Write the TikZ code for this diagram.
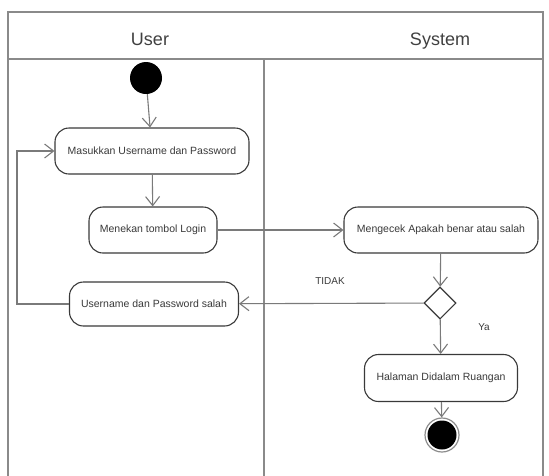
\documentclass[tikz,border=0pt]{standalone}
\usepackage{fontspec}
\setmainfont{Liberation Sans}
\usetikzlibrary{arrows.meta,shapes.geometric}
\definecolor{framec}{HTML}{8A8A8A}
\definecolor{linec}{HTML}{7A7A7A}
\definecolor{boxc}{HTML}{3A3A3A}
\definecolor{textc}{HTML}{3A3A3A}
\tikzset{
  act/.style={draw=boxc, line width=1.1pt, rounded corners=14pt, fill=white,
    minimum height=46pt, inner sep=0pt, font=\fontsize{10.5}{12}\selectfont, text=textc},
  flow/.style={draw=linec, line width=1.1pt, -{Straight Barb[length=9pt,width=14pt,line width=1.1pt]}},
  lane/.style={draw=framec, line width=1.8pt},
  hdr/.style={font=\fontsize{18}{20}\selectfont, text=black!75, anchor=base},
  lbl/.style={font=\fontsize{10}{12}\selectfont, text=textc}
}
\begin{document}
\begin{tikzpicture}[x=1pt,y=-1pt]
\useasboundingbox (0,0) rectangle (549,475);
% swimlane frame
\draw[lane] (8,480) -- (8,12) -- (543,12) -- (543,480);
\draw[lane] (8,59) -- (543,59);
\draw[lane] (264,59) -- (264,480);
\node[hdr] (huser) at (150,45) {User};
\node[hdr] (hsys) at (440,45) {System};
% nodes
\node[circle, fill=black, minimum size=32pt, inner sep=0pt] (start) at (146,78) {};
\node[act, minimum width=194pt] (masuk) at (152,151) {Masukkan Username dan Password};
\node[act, minimum width=128pt] (tekan) at (153,230) {Menekan tombol Login};
\node[act, minimum width=169pt, minimum height=44pt] (salah) at (154,304) {Username dan Password salah};
\node[act, minimum width=194pt] (cek) at (441,230) {Mengecek Apakah benar atau salah};
\node[diamond, draw=boxc, line width=1.1pt, fill=white, minimum width=32pt, minimum height=32pt, inner sep=0pt] (dec) at (440,303) {};
\node[act, minimum width=153pt, minimum height=47pt] (hal) at (441,378) {Halaman Didalam Ruangan};
\node[circle, draw=black!45, line width=1.2pt, minimum size=34pt, inner sep=0pt] (endo) at (442,435) {};
\node[circle, fill=black, minimum size=29pt, inner sep=0pt] (endi) at (442,435) {};
\coordinate (lb) at (17,304);
\coordinate (lt) at (17,151);
% connectors
\draw[flow] (start) -- (masuk);
\draw[flow] (masuk) -- (tekan);
\draw[flow] (tekan) -- (cek);
\draw[flow] (cek) -- (dec);
\draw[flow] (dec) -- (salah);
\draw[flow] (dec) -- (hal);
\draw[flow] (hal) -- (endo);
\draw[flow] (salah.west) -- (lb) -- (lt) -- (masuk.west);
\node[lbl] (tidak) at (330,281) {TIDAK};
\node[lbl] (ya) at (484,327) {Ya};
\end{tikzpicture}
\end{document}
